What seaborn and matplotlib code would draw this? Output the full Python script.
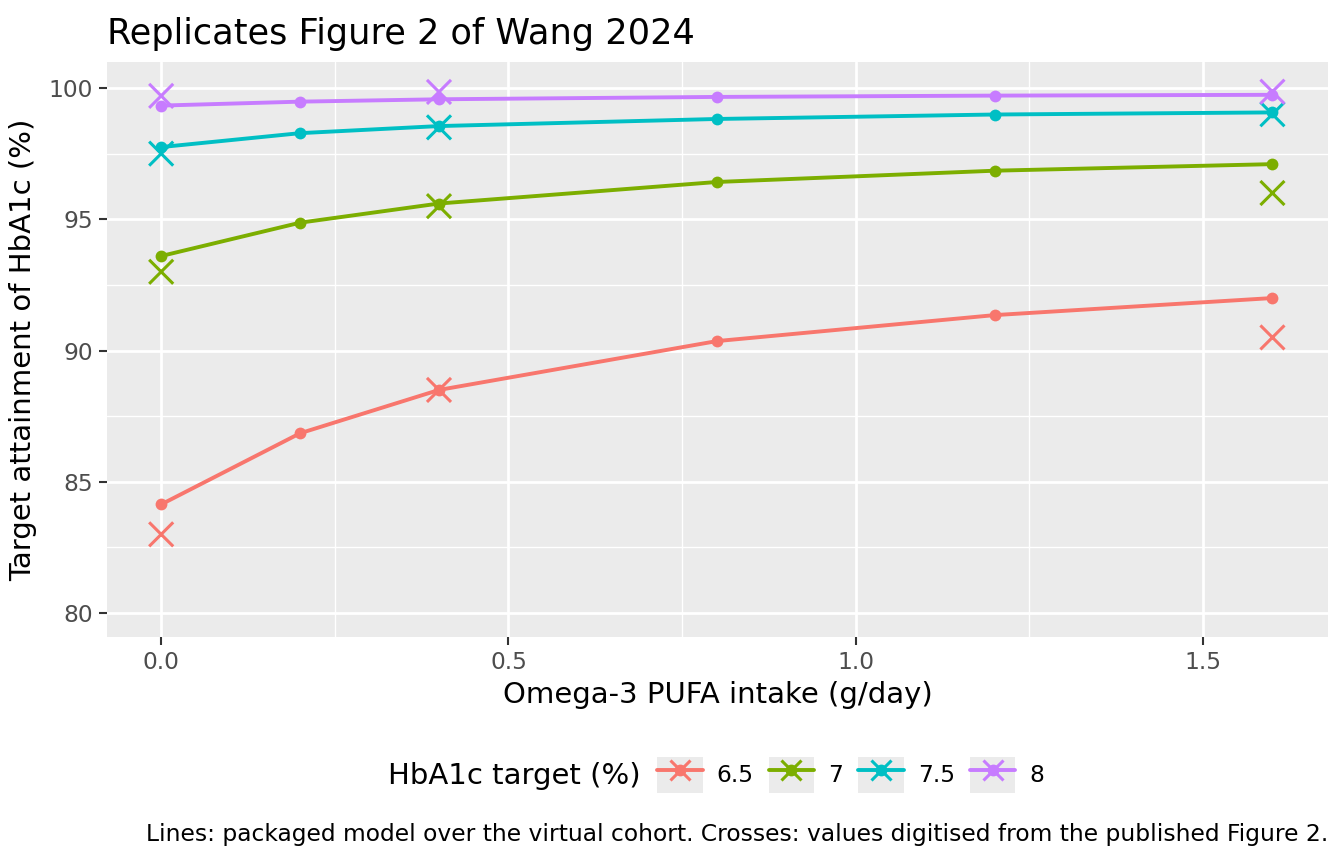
import numpy as np
import pandas as pd
import matplotlib
matplotlib.use("Agg")
import matplotlib.pyplot as plt
from matplotlib.lines import Line2D
from matplotlib.patches import Patch
from matplotlib.legend_handler import HandlerTuple
from matplotlib.ticker import MultipleLocator
import seaborn as sns

# ---- data ----
targets = ["6.5", "7", "7.5", "8"]
model_x = [0.0, 0.2, 0.4, 0.8, 1.2, 1.6]
model_65 = [84.14, 86.85, 88.5, 90.36, 91.35, 92.0]
model_7 = [93.6, 94.87, 95.6, 96.42, 96.85, 97.1]
model_75 = [97.75, 98.28, 98.55, 98.82, 98.99, 99.07]
model_8 = [99.33, 99.48, 99.57, 99.66, 99.71, 99.74]
digit_x = [0.0, 0.4, 1.6]
digit_65 = [83.0, 88.5, 90.5]
digit_7 = [93.0, 95.5, 96.0]
digit_75 = [97.5, 98.5, 99.0]
digit_8 = [99.7, 99.85, 99.86]

colors = ["#F8766D", "#7CAE00", "#00BFC4", "#C77CFF"]

model_df = pd.concat([
    pd.DataFrame({"x": model_x, "y": v, "target": t})
    for t, v in zip(targets, [model_65, model_7, model_75, model_8])
])
digit_df = pd.concat([
    pd.DataFrame({"x": digit_x, "y": v, "target": t})
    for t, v in zip(targets, [digit_65, digit_7, digit_75, digit_8])
])

sns.set_theme(style="darkgrid")
plt.rcParams["font.family"] = ["DejaVu Sans"]
plt.rcParams["text.color"] = "black"

fig = plt.figure(figsize=(13.44, 8.64), dpi=100)
ax = fig.add_axes([107 / 1344, 1 - 637 / 864, (1328 - 107) / 1344, (637 - 62) / 864])
ax.set_facecolor("#EBEBEB")

palette = dict(zip(targets, colors))
sns.lineplot(data=model_df, x="x", y="y", hue="target", palette=palette,
             hue_order=targets, ax=ax, linewidth=2.8, marker="o",
             markersize=8.5, markeredgewidth=0, legend=False, zorder=3)
sns.scatterplot(data=digit_df, x="x", y="y", hue="target", palette=palette,
                hue_order=targets, ax=ax, marker="x", s=300, linewidth=2.2,
                legend=False, zorder=4)

ax.set_xlim(-0.078, 1.68)
ax.set_ylim(79.09, 100.99)
ax.xaxis.set_major_locator(MultipleLocator(0.5))
ax.xaxis.set_minor_locator(MultipleLocator(0.25))
ax.yaxis.set_major_locator(MultipleLocator(5))
ax.yaxis.set_minor_locator(MultipleLocator(2.5))
ax.xaxis.set_major_formatter(matplotlib.ticker.FormatStrFormatter("%.1f"))
ax.grid(which="major", color="white", linewidth=2.0)
ax.grid(which="minor", color="white", linewidth=1.0)
ax.set_axisbelow(True)
for s in ax.spines.values():
    s.set_visible(False)
ax.tick_params(axis="both", which="major", length=6, width=1.5, color="#333333",
               labelsize=16.8, labelcolor="#4D4D4D", pad=4, bottom=True, left=True)
ax.tick_params(axis="both", which="minor", length=0)

ax.set_xlabel("Omega-3 PUFA intake (g/day)", fontsize=21, color="black", labelpad=5)
ax.set_ylabel("Target attainment of HbA1c (%)", fontsize=21, color="black", labelpad=8)
ax.set_title("Replicates Figure 2 of Wang 2024", fontsize=25.3, loc="left",
             color="black", pad=13)

# legend
handles = []
for c in colors:
    bg = Patch(facecolor="#EBEBEB", edgecolor="none")
    ln = Line2D([0], [0], color=c, linewidth=2.8, marker="o", markersize=8.5,
                markeredgewidth=0)
    cr = Line2D([0], [0], color=c, linestyle="none", marker="x", markersize=15,
                markeredgewidth=2.2)
    handles.append((bg, ln, cr))
leg = fig.legend(handles, targets,
                 handler_map={tuple: HandlerTuple(ndivide=1, pad=0)},
                 loc="center left", bbox_to_anchor=(657 / 1344, 1 - 775 / 864),
                 ncol=4, frameon=False, fontsize=16.8, handlelength=1.95,
                 handleheight=1.95, handletextpad=0.6, columnspacing=0.65,
                 borderpad=0, borderaxespad=0, numpoints=1)
for t in leg.get_texts():
    t.set_color("black")
fig.text(641 / 1344, 1 - 776 / 864, "HbA1c target (%)", fontsize=21,
         ha="right", va="center", color="black")
fig.text(1328 / 1344, 1 - 835 / 864,
         "Lines: packaged model over the virtual cohort. Crosses: values digitised from the published Figure 2.",
         fontsize=16.8, ha="right", va="center", color="black")

fig.savefig("out.png", dpi=100)
